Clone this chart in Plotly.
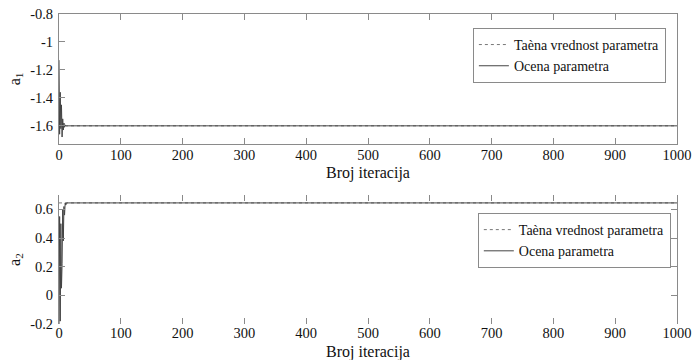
import plotly.graph_objects as go

# ---- data ----
iter_true = [0, 1000]
a1_true = [-1.6, -1.6]
a2_true = [0.645, 0.645]

iter_est = [0, 1, 2, 3, 4, 5, 6, 7, 8, 9, 10, 11, 12, 14, 1000]
a1_est = [-1.13, -1.66, -1.36, -1.62, -1.45, -1.68, -1.55, -1.63, -1.58, -1.61, -1.595, -1.602, -1.6, -1.6, -1.6]
a2_est = [-0.2, 0.55, -0.18, 0.5, 0.05, 0.22, 0.6, 0.38, 0.62, 0.56, 0.645, 0.63, 0.645, 0.645, 0.645]

x_ticks = [0, 100, 200, 300, 400, 500, 600, 700, 800, 900, 1000]
y1_ticks = [-0.8, -1.0, -1.2, -1.4, -1.6]
y1_labels = ["-0.8", "-1", "-1.2", "-1.4", "-1.6"]
y2_ticks = [0.6, 0.4, 0.2, 0.0, -0.2]
y2_labels = ["0.6", "0.4", "0.2", "0", "-0.2"]
x_title = "Broj iteracija"
legend_names = ["Taèna vrednost parametra", "Ocena parametra"]

FONT = "'Liberation Serif', 'DejaVu Serif', 'Times New Roman', serif"
TXT = "#111111"
LINE = "#8a8a8a"

fig = go.Figure()
fig.add_trace(go.Scatter(x=iter_true, y=a1_true, mode="lines", name=legend_names[0],
                         line=dict(color="#777777", width=1, dash="dot"), xaxis="x", yaxis="y", legend="legend"))
fig.add_trace(go.Scatter(x=iter_est, y=a1_est, mode="lines", name=legend_names[1],
                         line=dict(color="#444444", width=1), xaxis="x", yaxis="y", legend="legend"))
fig.add_trace(go.Scatter(x=iter_true, y=a2_true, mode="lines", name=legend_names[0],
                         line=dict(color="#777777", width=1, dash="dot"), xaxis="x2", yaxis="y2", legend="legend2"))
fig.add_trace(go.Scatter(x=iter_est, y=a2_est, mode="lines", name=legend_names[1],
                         line=dict(color="#444444", width=1), xaxis="x2", yaxis="y2", legend="legend2"))

tickfont = dict(family=FONT, size=14.5, color=TXT)
titlefont = dict(family=FONT, size=16, color=TXT)
common_x = dict(range=[0, 1000], tickvals=x_ticks, ticks="inside", ticklen=6, tickcolor=LINE,
                tickfont=tickfont, showgrid=False, zeroline=False, mirror="ticks", automargin=False,
                ticklabeloverflow="allow", ticklabelstandoff=-2)
common_y = dict(ticks="inside", ticklen=6, tickcolor=LINE, tickfont=tickfont, showgrid=False,
                zeroline=False, automargin=False, ticklabelstandoff=2, ticklabeloverflow="allow")

fig.update_layout(
    width=692, height=360,
    margin=dict(l=59, r=15, t=14, b=36, autoexpand=False),
    paper_bgcolor="white", plot_bgcolor="white",
    font=dict(family=FONT, color=TXT),
    xaxis=dict(**common_x, domain=[0, 1], anchor="y", showline=True, linecolor=LINE),
    yaxis=dict(**common_y, domain=[0.5806, 1.0], anchor="x", range=[-1.73, -0.8], tickvals=y1_ticks,
               ticktext=y1_labels, showline=True, linecolor=LINE, mirror=True,
               title=dict(text="a<sub>1</sub>", font=titlefont, standoff=5)),
    xaxis2=dict(**common_x, domain=[0, 1], anchor="y2", showline=False),
    yaxis2=dict(**common_y, domain=[0.0, 0.416], anchor="x2", range=[-0.2, 0.7], tickvals=y2_ticks,
                ticktext=y2_labels, showline=True, linecolor=LINE, mirror="ticks",
                title=dict(text="a<sub>2</sub>", font=titlefont, standoff=5)),
    legend=dict(x=0.982, y=0.955, xanchor="right", yanchor="top", bgcolor="white",
                bordercolor=LINE, borderwidth=1, font=dict(family=FONT, size=14, color=TXT),
                tracegroupgap=0, itemwidth=30),
    legend2=dict(x=0.990, y=0.358, xanchor="right", yanchor="top", bgcolor="white",
                 bordercolor=LINE, borderwidth=1, font=dict(family=FONT, size=14, color=TXT),
                 tracegroupgap=0, itemwidth=30),
    annotations=[
        dict(text=x_title, xref="paper", yref="paper", x=0.5, y=0.487, xanchor="center",
             yanchor="middle", showarrow=False, font=titlefont),
        dict(text=x_title, xref="paper", yref="paper", x=0.5, y=-0.089, xanchor="center",
             yanchor="middle", showarrow=False, font=titlefont),
    ],
)

fig.write_html("out.html", config={"displayModeBar": False},
               post_script="document.body.style.margin='0';")
